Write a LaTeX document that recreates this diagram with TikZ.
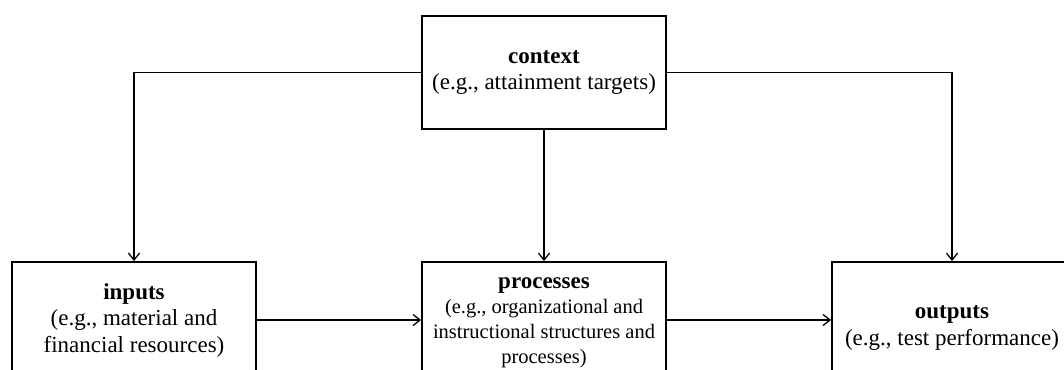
\documentclass[tikz,border=0pt]{standalone}
\usepackage{fontspec}
\setmainfont{Liberation Serif}
\usetikzlibrary{arrows.meta}
\begin{document}
\begin{tikzpicture}[x=1pt,y=-1pt,
  box/.style={draw=black, line width=1.8pt, minimum width=244pt, align=center, inner sep=0pt,
    font=\fontsize{23}{26.5}\selectfont},
  conn/.style={line width=1.3pt, -{Straight Barb[length=7pt,width=11pt,line width=1.3pt]}}]
\useasboundingbox (0,0) rectangle (1064,369);
\node[box, minimum height=113pt] (context) at (544,72.5) {\textbf{context}\\(e.g., attainment targets)};
\node[box, minimum height=116pt] (inputs) at (134,320) {\textbf{inputs}\\(e.g., material and\\financial resources)};
\node[box, minimum height=122pt, font=\fontsize{20.5}{25}\selectfont] (processes) at (544,323) {{\fontsize{23}{25}\selectfont\textbf{processes}}\\\makebox[198pt][s]{(e.g., organizational and}\\\makebox[222pt][s]{instructional structures and}\\processes)};
\node[box, minimum width=240pt, minimum height=132pt] (outputs) at (952,328) {\textbf{outputs}\\(e.g., test performance)};
\draw[conn] (context.west) -| (inputs.north);
\draw[conn] (context.east) -| (outputs.north);
\draw[conn] (context.south) -- (processes.north);
\draw[conn] (inputs.east) -- (processes.west |- inputs.east);
\draw[conn] (processes.east |- inputs.east) -- (outputs.west |- inputs.east);
\end{tikzpicture}
\end{document}
